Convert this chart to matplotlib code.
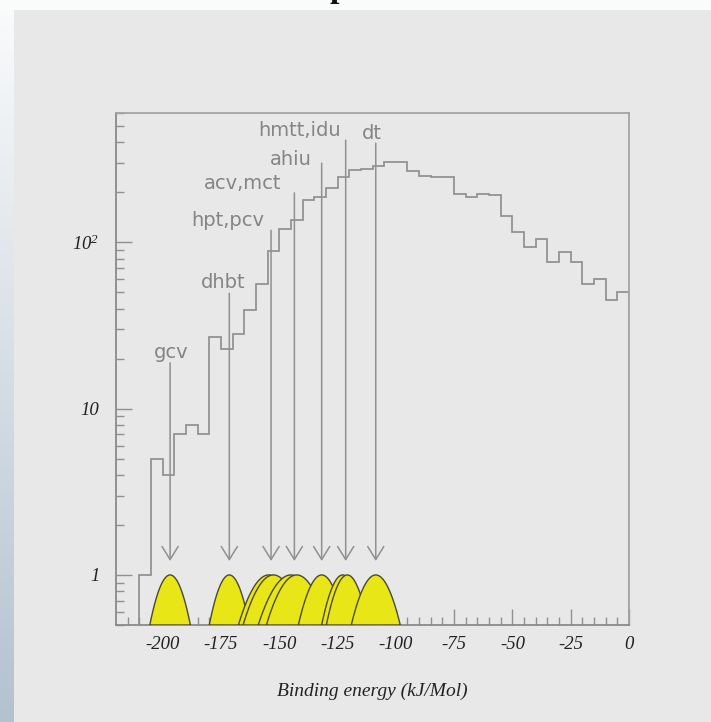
import numpy as np
import matplotlib
matplotlib.use("Agg")
import matplotlib.pyplot as plt
from matplotlib.patches import Rectangle
from matplotlib.ticker import FixedLocator, FixedFormatter, NullFormatter

plt.rcParams["axes.unicode_minus"] = False
plt.rcParams["mathtext.fontset"] = "custom"
plt.rcParams["mathtext.rm"] = "Liberation Serif:italic"
plt.rcParams["mathtext.it"] = "Liberation Serif:italic"

# ---- histogram of binding energies (5 kJ/Mol bins) ----
bin_edges = np.arange(-210, 0.1, 5)
counts = [1, 5, 4, 7, 8, 7, 27, 23, 28, 39, 56, 89, 120, 136, 179, 187,
          212, 247, 274, 277, 288, 303, 303, 269, 252, 246, 246, 196, 187,
          196, 192, 145, 116, 94, 105, 76, 87, 76, 56, 60, 45, 50]

# ---- reference ligands: energy and half width at half height ----
ligands = ["gcv", "dhbt", "hpt", "pcv", "acv", "mct", "ahiu", "hmtt", "idu", "dt"]
ligand_energy = [-196.8, -171.4, -154.5, -152.5, -145.0, -142.5, -131.8,
                 -122.8, -120.8, -108.6]
ligand_halfwidth = [8.7, 8.6, 13.0, 13.0, 14.0, 13.0, 10.0, 9.0, 9.0, 10.5]

# ---- arrow annotations ----
arrow_labels = ["gcv", "dhbt", "hpt,pcv", "acv,mct", "ahiu", "hmtt,idu", "dt"]
arrow_energy = [-196.8, -171.4, -153.5, -143.5, -131.8, -121.5, -108.6]

x_ticks = [-200, -175, -150, -125, -100, -75, -50, -25, 0]
x_ticklabels = ["-200", "-175", "-150", "-125", "-100", "-75", "-50", "-25", "0"]
y_ticks = [1, 10, 100]
y_ticklabels = ["1", "10", r"$10^{2}$"]

W, H = 711, 722
fig = plt.figure(figsize=(W / 100, H / 100), dpi=100, facecolor="#e8e8e8")

# white band across the top and a shaded strip on the left edge
fig.patches.append(Rectangle((0, 1 - 10 / H), 1, 10 / H, transform=fig.transFigure,
                             facecolor="#fafcfb", edgecolor="none", zorder=0))
strip = fig.add_axes([0, 0, 14 / W, 1])
top_c = np.array([250, 251, 252]) / 255
bot_c = np.array([180, 194, 207]) / 255
t = np.linspace(0, 1, 256)[:, None]
grad = (top_c[None, :] * (1 - t) + bot_c[None, :] * t)[:, None, :]
strip.imshow(grad, aspect="auto", extent=[0, 1, 0, 1], origin="upper")
strip.set_axis_off()

# title glyph running off the top edge
fig.text(339 / W, 1 + 3 / H, "p", fontsize=24, fontweight="bold",
         family="Liberation Serif", ha="center", va="baseline", color="#111111")

ax = fig.add_axes([116 / W, 1 - 625 / H, 513 / W, 512 / H])
ax.set_facecolor("#e8e8e8")
ax.set_yscale("log")
ax.set_xlim(-220, 0)
ax.set_ylim(0.5, 600)

line_grey = "#909090"
ax.stairs(counts, bin_edges, baseline=1e-3, color=line_grey, lw=1.25, zorder=2)

# gaussian profiles of the reference ligands
for mu, hw in zip(ligand_energy, ligand_halfwidth):
    sigma = hw / np.sqrt(2 * np.log(2))
    xs = np.linspace(mu - hw, mu + hw, 200)
    ys = np.exp(-(xs - mu) ** 2 / (2 * sigma ** 2))
    ax.fill(np.r_[xs, xs[-1], xs[0]], np.r_[ys, 0.5, 0.5],
            facecolor="#e8e617", edgecolor="#4a4a30", lw=1.0, zorder=3)

# arrows and their labels (vertical layout in axes fraction)
line_top = [0.512, 0.648, 0.771, 0.844, 0.902, 0.947, 0.941]
label_base = [0.521, 0.658, 0.779, 0.851, 0.898, 0.955, 0.949]
label_x = [-196.4, -174.1, -172.0, -165.5, -144.9, -141.1, -110.2]
tip = 0.125
trans = ax.get_xaxis_transform()
for name, e, top, base, lx in zip(arrow_labels, arrow_energy, line_top,
                                  label_base, label_x):
    ax.annotate("", xy=(e, tip), xycoords=trans, xytext=(e, top), textcoords=trans,
                arrowprops=dict(arrowstyle="->,head_length=9.4,head_width=5.8",
                                mutation_scale=1, color=line_grey, lw=1.1,
                                shrinkA=0, shrinkB=0), zorder=4)
    ax.text(lx, base, name, transform=trans, ha="center", va="baseline",
            fontsize=14, color="#858585", family="DejaVu Sans")

for side in ["top", "right"]:
    ax.spines[side].set_color("#a4a4a4")
    ax.spines[side].set_linewidth(1.3)
for side in ["left", "bottom"]:
    ax.spines[side].set_color("#8a8a8a")
    ax.spines[side].set_linewidth(1.3)

ax.xaxis.set_major_locator(FixedLocator(x_ticks))
ax.xaxis.set_major_formatter(FixedFormatter(x_ticklabels))
ax.xaxis.set_minor_locator(FixedLocator(np.arange(-215, 0, 5)))
ax.xaxis.set_minor_formatter(NullFormatter())
ax.yaxis.set_major_locator(FixedLocator(y_ticks))
ax.yaxis.set_major_formatter(FixedFormatter(y_ticklabels))
minor_y = [m * 10 ** d for d in range(-1, 3) for m in range(2, 10)
           if 0.5 <= m * 10 ** d <= 600]
ax.yaxis.set_minor_locator(FixedLocator(minor_y))
ax.yaxis.set_minor_formatter(NullFormatter())

ax.tick_params(which="both", direction="in", color="#909090", width=1.0,
               top=False, right=False)
ax.tick_params(which="major", length=11.5)
ax.tick_params(which="minor", length=5.8)
ax.tick_params(axis="x", which="major", pad=8)
ax.tick_params(axis="y", which="major", pad=12)
for lab in ax.get_xticklabels() + ax.get_yticklabels():
    lab.set_fontfamily("Liberation Serif")
    lab.set_fontstyle("italic")
    lab.set_fontsize(13.5)
    lab.set_color("#222222")

ax.set_xlabel("Binding energy (kJ/Mol)", fontsize=14, family="Liberation Serif",
              style="italic", color="#222222")
ax.xaxis.set_label_coords(0.5, -0.113)
ax.xaxis.label.set_va("top")

fig.savefig("out.png", dpi=100, facecolor=fig.get_facecolor())
